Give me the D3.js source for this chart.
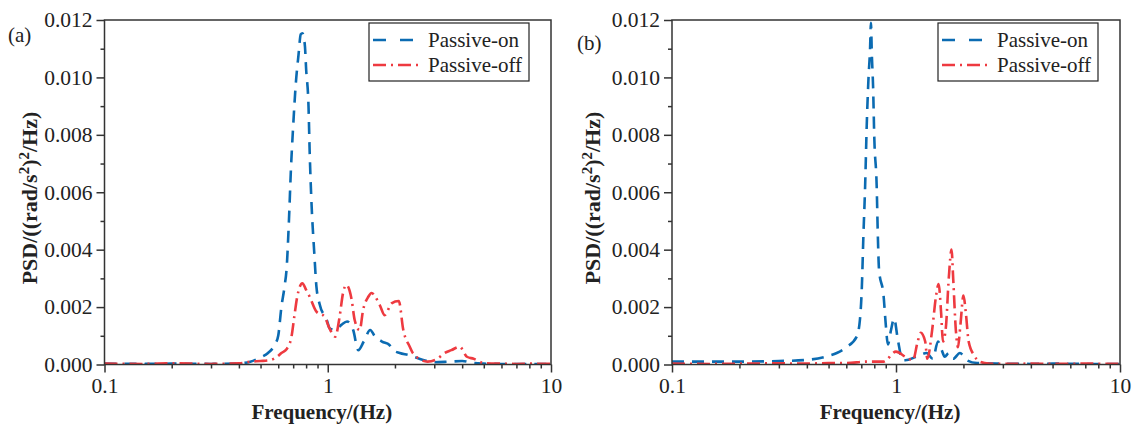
<!DOCTYPE html>
<html>
<head>
<meta charset="utf-8">
<script src="https://cdn.jsdelivr.net/npm/d3@7"></script>
<style>
  body { margin: 0; background: #fff; }
  svg text { font-family: "Liberation Serif", "Times New Roman", serif; fill: #222; }
</style>
</head>
<body>
<div id="chart"></div>
<script>
// ---- data ----
const seriesNames = ["Passive-on", "Passive-off"];
const panelLabels = ["(a)", "(b)"];
const xMajorTicks = [0.1, 1, 10];
const xMinorTicks = [0.2, 0.3, 0.4, 0.5, 0.6, 0.7, 0.8, 0.9, 2, 3, 4, 5, 6, 7, 8, 9];
const yMajorTicks = [0, 0.002, 0.004, 0.006, 0.008, 0.010, 0.012];
const yMinorTicks = [0.001, 0.003, 0.005, 0.007, 0.009, 0.011];

// panel (a)
const freqA_on = [0.1, 0.15, 0.2, 0.3, 0.4, 0.45, 0.5, 0.54, 0.58, 0.6, 0.62, 0.64, 0.655, 0.67, 0.684, 0.7, 0.718, 0.74, 0.757, 0.77, 0.79, 0.8, 0.82, 0.83, 0.846, 0.87, 0.89, 0.92, 0.99, 1.02, 1.08, 1.15, 1.22, 1.3, 1.37, 1.45, 1.55, 1.62, 1.75, 1.89, 1.96, 2.1, 2.3, 2.7, 3.0, 3.5, 4.0, 4.5, 5, 6, 8, 10];
const psdA_on = [0.00003, 0.00002, 0.00003, 0.00002, 0.00004, 0.0001, 0.00025, 0.0004, 0.0007, 0.001, 0.002, 0.0027, 0.0034, 0.005, 0.0068, 0.0083, 0.0097, 0.0108, 0.0115, 0.01154, 0.0111, 0.0103, 0.009, 0.0074, 0.0056, 0.0039, 0.0027, 0.0021, 0.00155, 0.00126, 0.0012, 0.00138, 0.0015, 0.0012, 0.0005, 0.0008, 0.0012, 0.001, 0.0008, 0.00068, 0.0005, 0.0004, 0.00033, 0.00015, 0.00008, 0.0001, 0.00012, 0.00005, 0.00003, 0.00002, 0.00002, 0.00002];
const freqA_off = [0.1, 0.15, 0.2, 0.25, 0.3, 0.4, 0.45, 0.5, 0.55, 0.6, 0.62, 0.655, 0.688, 0.708, 0.73, 0.77, 0.8, 0.83, 0.89, 0.97, 1.01, 1.08, 1.13, 1.17, 1.21, 1.28, 1.32, 1.39, 1.44, 1.52, 1.57, 1.71, 1.8, 1.93, 2.08, 2.18, 2.33, 2.41, 2.8, 3.1, 3.34, 3.58, 3.9, 4.2, 4.5, 5, 6, 7, 8, 10];
const psdA_off = [0.00003, 0.00002, 0.00004, 0.00003, 0.00002, 0.00004, 0.0001, 0.00012, 0.00015, 0.0003, 0.0004, 0.00054, 0.00097, 0.00166, 0.00236, 0.00283, 0.0026, 0.00236, 0.00184, 0.00166, 0.00132, 0.00097, 0.00166, 0.00248, 0.00277, 0.00225, 0.00155, 0.0012, 0.0019, 0.00236, 0.00249, 0.00207, 0.00172, 0.00213, 0.00221, 0.0012, 0.00062, 0.00039, 0.0001, 0.0002, 0.0004, 0.0005, 0.00062, 0.00027, 0.0002, 0.00005, 0.00003, 0.00002, 0.00003, 0.00002];

// panel (b)
const freqB_on = [0.1, 0.15, 0.2, 0.3, 0.4, 0.5, 0.544, 0.6, 0.668, 0.69, 0.704, 0.715, 0.728, 0.74, 0.753, 0.766, 0.773, 0.78, 0.79, 0.8, 0.82, 0.83, 0.84, 0.88, 0.9, 0.92, 0.95, 0.98, 1.02, 1.07, 1.1, 1.23, 1.37, 1.46, 1.54, 1.6, 1.65, 1.72, 1.8, 1.93, 2.07, 2.3, 3, 4, 5, 7, 10];
const psdB_on = [0.0001, 0.0001, 0.0001, 0.00012, 0.00016, 0.0003, 0.0004, 0.0006, 0.00097, 0.00155, 0.0027, 0.00445, 0.0062, 0.0083, 0.0099, 0.011, 0.0119, 0.0108, 0.0097, 0.0079, 0.0062, 0.00445, 0.0033, 0.0024, 0.0014, 0.0007, 0.0012, 0.0016, 0.00085, 0.00015, 0.00015, 0.00027, 0.0004, 0.0002, 0.0008, 0.0005, 0.00027, 0.0004, 0.0002, 0.0004, 0.00015, 0.00005, 0.00003, 0.00002, 0.00003, 0.00002, 0.00002];
const freqB_off = [0.1, 0.15, 0.2, 0.3, 0.4, 0.5, 0.6, 0.74, 0.88, 1.0, 1.1, 1.19, 1.25, 1.29, 1.35, 1.38, 1.45, 1.51, 1.55, 1.59, 1.62, 1.67, 1.72, 1.77, 1.8, 1.85, 1.89, 1.94, 2.0, 2.05, 2.11, 2.24, 2.36, 2.6, 3, 4, 5, 7, 10];
const psdB_off = [0.00003, 0.00002, 0.00003, 0.00004, 0.00003, 0.00005, 0.00005, 0.0001, 0.0001, 0.00045, 0.00027, 0.00015, 0.0008, 0.0011, 0.0008, 0.0002, 0.0012, 0.0024, 0.0028, 0.0018, 0.0008, 0.0013, 0.003, 0.004, 0.003, 0.0012, 0.0006, 0.0014, 0.0024, 0.0018, 0.0008, 0.0003, 0.0001, 0.00003, 0.00002, 0.00003, 0.00002, 0.00003, 0.00002];

// ---- layout ----
const width = 1137, height = 430;
const plotTop = 20, plotBottom = 364.5;
const colors = ["#0b6bb2", "#ee3a40"];
const dashes = ["12,8", "13,5,2,5"];
const serif = '"Liberation Serif", "Times New Roman", serif';

const panels = [
  { id: "a", left: 104.5, right: 551, label: panelLabels[0], labelX: 8, labelY: 42, titleX: 30,
    series: [[freqA_on, psdA_on], [freqA_off, psdA_off]], legendX: 369 },
  { id: "b", left: 672, right: 1120, label: panelLabels[1], labelX: 577, labelY: 50, titleX: 593,
    series: [[freqB_on, psdB_on], [freqB_off, psdB_off]], legendX: 938 }
];

const svg = d3
  .select("#chart")
  .append("svg")
  .attr("width", width)
  .attr("height", height);

panels.forEach((p) => {
  const x = d3.scaleLog().domain([0.1, 10]).range([p.left, p.right]);
  const y = d3.scaleLinear().domain([0, 0.012]).range([plotBottom, plotTop]);

  const g = svg.append("g");

  g.append("clipPath")
    .attr("id", "clip-" + p.id)
    .append("rect")
    .attr("x", p.left)
    .attr("y", plotTop)
    .attr("width", p.right - p.left)
    .attr("height", plotBottom - plotTop);

  // lines
  const line = d3
    .line()
    .x((d) => x(d[0]))
    .y((d) => y(d[1]))
    .curve(d3.curveMonotoneX);

  p.series.forEach((s, i) => {
    const pts = s[0].map((f, k) => [f, s[1][k]]);
    g.append("path")
      .datum(pts)
      .attr("clip-path", "url(#clip-" + p.id + ")")
      .attr("d", line)
      .attr("fill", "none")
      .attr("stroke", colors[i])
      .attr("stroke-width", 2.6)
      .attr("stroke-dasharray", dashes[i]);
  });

  // axes
  const xMajor = g.append("g")
    .attr("transform", "translate(0," + plotBottom + ")")
    .call(d3.axisBottom(x).tickValues(xMajorTicks).tickSize(8).tickSizeOuter(0).tickFormat(d3.format("")));
  const xMinor = g.append("g")
    .attr("transform", "translate(0," + plotBottom + ")")
    .call(d3.axisBottom(x).tickValues(xMinorTicks).tickSize(4).tickSizeOuter(0).tickFormat(""));
  const yMajor = g.append("g")
    .attr("transform", "translate(" + p.left + ",0)")
    .call(d3.axisLeft(y).tickValues(yMajorTicks).tickSize(8).tickSizeOuter(0).tickFormat(d3.format(".3f")));
  const yMinor = g.append("g")
    .attr("transform", "translate(" + p.left + ",0)")
    .call(d3.axisLeft(y).tickValues(yMinorTicks).tickSize(4).tickSizeOuter(0).tickFormat(""));

  [xMajor, xMinor, yMajor, yMinor].forEach((a) => {
    a.select(".domain").remove();
    a.selectAll("line").attr("stroke", "#333").attr("stroke-width", 1.5);
    a.selectAll("text")
      .style("font-family", serif)
      .style("font-size", "21.5px")
      .attr("fill", "#222");
  });
  xMajor.selectAll("text").attr("y", 13);
  yMajor.selectAll("text").attr("x", -12);

  // frame
  g.append("rect")
    .attr("x", p.left)
    .attr("y", plotTop)
    .attr("width", p.right - p.left)
    .attr("height", plotBottom - plotTop)
    .attr("fill", "none")
    .attr("stroke", "#333")
    .attr("stroke-width", 1.5);

  // axis titles
  g.append("text")
    .attr("x", (p.left + p.right) / 2 - 6)
    .attr("y", 419)
    .attr("text-anchor", "middle")
    .style("font-size", "21px")
    .style("font-weight", "bold")
    .text("Frequency/(Hz)");

  const yt = g.append("text")
    .attr("transform", "translate(" + (p.titleX + 7) + ",198) rotate(-90)")
    .attr("text-anchor", "middle")
    .style("font-size", "22px")
    .style("font-weight", "bold");
  yt.append("tspan").text("PSD/((rad/s");
  yt.append("tspan").attr("dy", -8).style("font-size", "15px").text("2");
  yt.append("tspan").attr("dy", 8).text(")");
  yt.append("tspan").attr("dy", -8).style("font-size", "15px").text("2");
  yt.append("tspan").attr("dy", 8).text("/Hz)");

  // panel label
  g.append("text")
    .attr("x", p.labelX)
    .attr("y", p.labelY)
    .style("font-size", "21px")
    .text(p.label);

  // legend
  const lg = g.append("g").attr("transform", "translate(" + p.legendX + ",23)");
  lg.append("rect")
    .attr("width", 160)
    .attr("height", 58)
    .attr("fill", "#fff")
    .attr("stroke", "#222")
    .attr("stroke-width", 1.2);
  seriesNames.forEach((name, i) => {
    const ly = 17 + i * 25;
    lg.append("line")
      .attr("x1", 4)
      .attr("x2", 52)
      .attr("y1", ly)
      .attr("y2", ly)
      .attr("stroke", colors[i])
      .attr("stroke-width", 2.6)
      .attr("stroke-dasharray", i === 0 ? "13,14" : dashes[i]);
    lg.append("text")
      .attr("x", 59)
      .attr("y", ly)
      .attr("dy", "0.35em")
      .style("font-size", "21px")
      .text(name);
  });
});
</script>
</body>
</html>
